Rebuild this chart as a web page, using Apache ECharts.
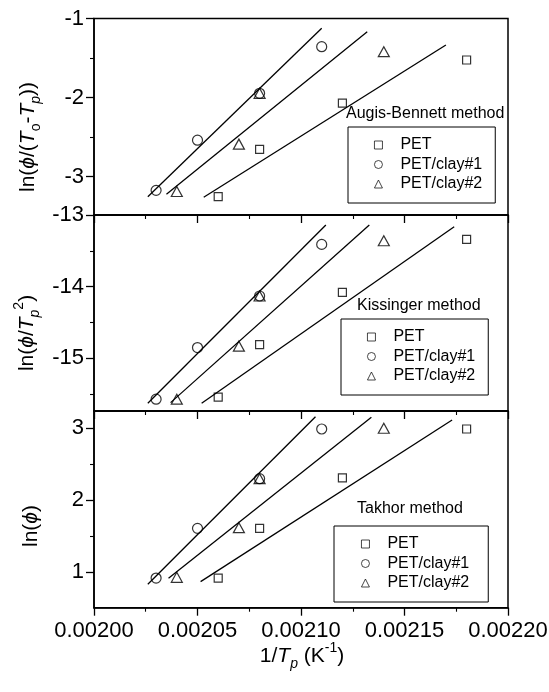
<!DOCTYPE html>
<html>
<head>
<meta charset="utf-8">
<script src="https://cdn.jsdelivr.net/npm/echarts@6/dist/echarts.min.js"></script>
<style>
  html, body { margin: 0; padding: 0; background: #fff; }
  #chart { width: 549px; height: 692px; }
</style>
</head>
<body>
<div id="chart"></div>
<script>
const FONT = '"Liberation Sans", Arial, sans-serif';

// Series names shown in every legend
const seriesNames = ['PET', 'PET/clay#1', 'PET/clay#2'];
const seriesSymbols = ['rect', 'circle', 'triangle'];
const seriesSymbolSizes = [8, 10, [11, 10]];

// 1/Tp (K^-1) of the crystallization peaks
const invTpPET   = [0.00206, 0.00208, 0.00212, 0.00218];
const invTpClay1 = [0.00203, 0.00205, 0.00208, 0.00211];
const invTpClay2 = [0.00204, 0.00207, 0.00208, 0.00214];

// Augis-Bennett: ln(phi/(To-Tp))
const abPET   = [-3.255, -2.656, -2.07, -1.525];
const abClay1 = [-3.175, -2.54, -1.947, -1.357];
const abClay2 = [-3.19, -2.59, -1.947, -1.42];

// Kissinger: ln(phi/Tp^2)
const kisPET   = [-15.54, -14.81, -14.08, -13.34];
const kisClay1 = [-15.57, -14.85, -14.13, -13.41];
const kisClay2 = [-15.57, -14.83, -14.13, -13.36];

// Takhor: ln(phi)
const takPET   = [0.92, 1.61, 2.31, 2.99];
const takClay1 = [0.92, 1.61, 2.30, 2.99];
const takClay2 = [0.93, 1.62, 2.30, 3.00];

// Linear fit segments, [x0, y0] -> [x1, y1]
const fitAbPET   = [[0.002053, -3.263], [0.002170, -1.335]];
const fitAbClay1 = [[0.002026, -3.256], [0.002110, -1.124]];
const fitAbClay2 = [[0.002035, -3.225], [0.002132, -1.167]];
const fitKisPET   = [[0.002052, -15.626], [0.002174, -13.163]];
const fitKisClay1 = [[0.002026, -15.626], [0.002112, -13.14]];
const fitKisClay2 = [[0.002037, -15.618], [0.002133, -13.14]];
const fitTakPET   = [[0.0020515, 0.87], [0.002173, 3.115]];
const fitTakClay1 = [[0.002026, 0.833], [0.002107, 3.161]];
const fitTakClay2 = [[0.002036, 0.917], [0.002134, 3.153]];

// Axis ticks
const xTickFormat = v => v.toFixed(5);
const abMajor = [-3, -2, -1],     abMinor = [-3.5, -2.5, -1.5];
const kisMajor = [-15, -14, -13], kisMinor = [-15.5, -14.5, -13.5];
const takMajor = [1, 2, 3],       takMinor = [0.5, 1.5, 2.5];

const methodTitles = ['Augis-Bennett method', 'Kissinger method', 'Takhor method'];

const panels = [
  { ys: [abPET, abClay1, abClay2], fits: [fitAbPET, fitAbClay1, fitAbClay2],
    yMin: -3.487, yMax: -1, major: abMajor, minor: abMinor,
    grid: { top: 18.5, height: 196.5 },
    title: { left: 346, top: 105.5 },
    legend: { left: 348, top: 127, padding: [10, 13, 11, 26] } },
  { ys: [kisPET, kisClay1, kisClay2], fits: [fitKisPET, fitKisClay1, fitKisClay2],
    yMin: -15.735, yMax: -13, major: kisMajor, minor: kisMinor,
    grid: { top: 215, height: 196 },
    title: { left: 357, top: 297.5 },
    legend: { left: 341, top: 319, padding: [10, 13, 11, 26] } },
  { ys: [takPET, takClay1, takClay2], fits: [fitTakPET, fitTakClay1, fitTakClay2],
    yMin: 0.508, yMax: 3.24, major: takMajor, minor: takMinor,
    grid: { top: 411, height: 196.7 },
    title: { left: 357, top: 500.5 },
    legend: { left: 334, top: 526, padding: [10, 19, 11, 27] } }
];
const xs = [invTpPET, invTpClay1, invTpClay2];

const grid = [], xAxis = [], yAxis = [], series = [], title = [], legend = [];

panels.forEach((p, i) => {
  grid.push({
    left: 94, width: 414, top: p.grid.top, height: p.grid.height,
    show: true, borderColor: '#000', borderWidth: 1.5,
    backgroundColor: 'transparent', containLabel: false, outerBoundsMode: 'none'
  });
  xAxis.push({
    gridIndex: i, type: 'value', min: 0.002, max: 0.0022, interval: 0.00005,
    axisLine: { onZero: false, lineStyle: { color: '#000', width: 1.5 } },
    axisTick: { inside: false, length: 8, lineStyle: { color: '#000', width: 1.3 } },
    minorTick: { show: true, splitNumber: 2, length: 4, lineStyle: { color: '#000', width: 1.1 } },
    splitLine: { show: false }, minorSplitLine: { show: false },
    axisLabel: { show: i === 2, margin: 12, fontFamily: FONT, fontSize: 22, color: '#000',
                 formatter: xTickFormat }
  });
  yAxis.push({
    gridIndex: i, type: 'value', min: p.yMin, max: p.yMax, position: 'left',
    axisLine: { show: true, onZero: false, lineStyle: { color: '#000', width: 1.5 } },
    axisTick: { show: true, inside: false, length: 8, customValues: p.major,
                lineStyle: { color: '#000', width: 1.3 } },
    axisLabel: { show: true, customValues: p.major, margin: 10, fontFamily: FONT,
                 fontSize: 22, color: '#000' },
    splitLine: { show: false }
  });
  yAxis.push({
    gridIndex: i, type: 'value', min: p.yMin, max: p.yMax, position: 'left', offset: 0,
    axisLine: { show: false, onZero: false },
    axisTick: { show: true, inside: false, length: 4, customValues: p.minor,
                lineStyle: { color: '#000', width: 1.1 } },
    axisLabel: { show: false },
    splitLine: { show: false }
  });

  p.fits.forEach((seg, k) => {
    series.push({
      name: seriesNames[k] + ' fit', type: 'line', xAxisIndex: i, yAxisIndex: 2 * i,
      data: seg, symbol: 'none', silent: true, z: 2,
      lineStyle: { color: '#000', width: 1.3 }
    });
  });
  p.ys.forEach((yv, k) => {
    series.push({
      name: seriesNames[k], type: 'scatter', xAxisIndex: i, yAxisIndex: 2 * i,
      data: xs[k].map((x, j) => [x, yv[j]]),
      symbol: seriesSymbols[k], symbolSize: seriesSymbolSizes[k], z: 3,
      itemStyle: { color: 'rgba(0,0,0,0)', borderColor: '#000', borderWidth: 1.2 }
    });
  });

  title.push({
    text: methodTitles[i], left: p.title.left, top: p.title.top, padding: 0,
    textStyle: { fontFamily: FONT, fontSize: 16, fontWeight: 'normal', color: '#000' }
  });
  legend.push({
    show: true, orient: 'vertical', left: p.legend.left, top: p.legend.top,
    data: seriesNames, selectedMode: false,
    itemWidth: 8, itemHeight: 8, itemGap: 3.5,
    itemStyle: { borderWidth: 0.9 },
    padding: p.legend.padding,
    borderColor: '#000', borderWidth: 1, backgroundColor: 'transparent',
    textStyle: { fontFamily: FONT, fontSize: 16, color: '#000', lineHeight: 16,
                 padding: [0, 0, 0, 13] }
  });
});

const richBase = {
  i:   { fontFamily: FONT, fontSize: 21, fontStyle: 'italic', lineHeight: 30, fill: '#000' },
  sub: { fontFamily: FONT, fontSize: 14, lineHeight: 14, verticalAlign: 'bottom', fill: '#000' },
  subi:{ fontFamily: FONT, fontSize: 14, fontStyle: 'italic', lineHeight: 14, verticalAlign: 'bottom', fill: '#000' },
  sup: { fontFamily: FONT, fontSize: 14, lineHeight: 14, verticalAlign: 'top', fill: '#000' }
};
function axisTitle(text, x, y, rotated) {
  return {
    type: 'text', x: x, y: y, rotation: rotated ? Math.PI / 2 : 0, silent: true,
    style: {
      text: text, fontFamily: FONT, fontSize: 21, lineHeight: 30, fill: '#000',
      align: 'center', verticalAlign: 'middle',
      textAlign: 'center', textVerticalAlign: 'middle',
      rich: richBase
    }
  };
}

const option = {
  animation: false,
  backgroundColor: '#fff',
  grid, xAxis, yAxis, series, title, legend,
  graphic: [
    axisTitle('ln({i|ϕ}/({i|T}{sub|o}-{i|T}{subi|p}))', 28, 137, true),
    axisTitle('ln({i|ϕ}/{i|T}{subi|p}{sup|2})', 27, 333, true),
    axisTitle('ln({i|ϕ})', 31, 526, true),
    axisTitle('1/{i|T}{subi|p} (K{sup|-1})', 302, 656, false)
  ]
};

const chart = echarts.init(document.getElementById('chart'), null, { renderer: 'canvas' });
chart.setOption(option);
</script>
</body>
</html>
